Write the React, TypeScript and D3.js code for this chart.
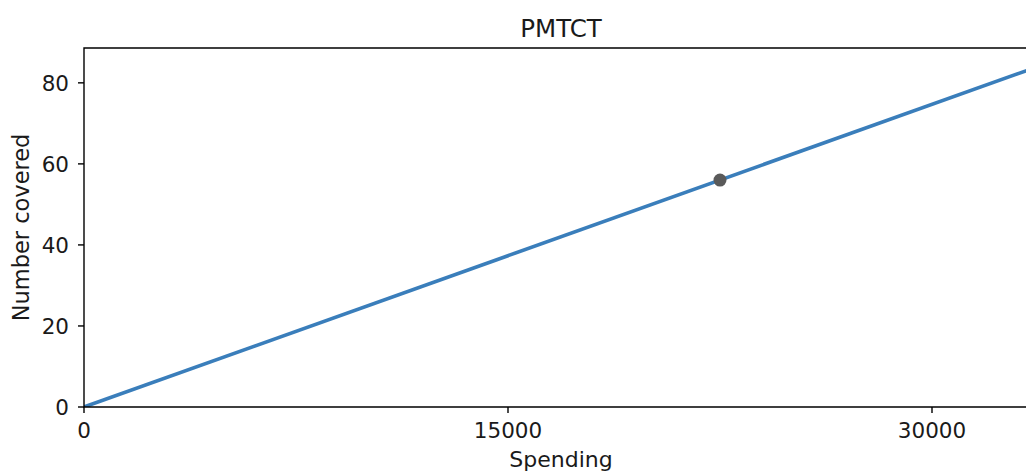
import React from "react";
import * as d3 from "d3";

const lineSpending = [0, 33900];
const lineCovered = [0, 84.4];
const pointSpending = [22500];
const pointCovered = [56];
const xTicks = [0, 15000, 30000];
const yTicks = [0, 20, 40, 60, 80];

export default function App() {
  const W = 1026, H = 474;
  const left = 84, top = 48, bottom = 407;
  const x = d3.scaleLinear().domain([0, 15000]).range([left, left + 424]);
  const xMax = 35600;
  const right = x(xMax);
  const y = d3.scaleLinear().domain([0, 88.6]).range([bottom, top]);
  const lineData = lineSpending.map((s, i) => [s, lineCovered[i]] as [number, number]);
  const line = d3.line<[number, number]>().x(d => x(d[0])).y(d => y(d[1]));
  const font = "DejaVu Sans, sans-serif";
  return (
    <svg width={W} height={H} style={{ position: "absolute", left: 0, top: 0, display: "block" }} fontFamily={font}>
      <rect x={0} y={0} width={W} height={H} fill="#fff" />
      <defs>
        <clipPath id="plot"><rect x={left} y={top} width={right - left} height={bottom - top} /></clipPath>
      </defs>
      <path d={line(lineData) || ""} fill="none" stroke="#3a7ebb" strokeWidth={3.6} clipPath="url(#plot)" />
      {pointSpending.map((s, i) => (
        <circle key={i} cx={x(s)} cy={y(pointCovered[i])} r={6.5} fill="#5a5a5a" />
      ))}
      <path d={`M${left},${bottom}V${top}H${right}V${bottom}Z`} fill="none" stroke="#000" strokeWidth={1.4} />
      {yTicks.map(t => (
        <g key={t}>
          <line x1={left - 6} x2={left} y1={y(t)} y2={y(t)} stroke="#000" strokeWidth={1.4} />
          <text x={left - 15} y={y(t)} dy="0.36em" textAnchor="end" fontSize={21.5} fill="#1a1a1a">{t}</text>
        </g>
      ))}
      {xTicks.map(t => (
        <g key={t}>
          <line x1={x(t)} x2={x(t)} y1={bottom} y2={bottom + 6} stroke="#000" strokeWidth={1.4} />
          <text x={x(t)} y={438} textAnchor="middle" fontSize={21.5} fill="#1a1a1a">{t}</text>
        </g>
      ))}
      <text x={561} y={467} textAnchor="middle" fontSize={22} fill="#1a1a1a">Spending</text>
      <text transform={`translate(29,${(top + bottom) / 2}) rotate(-90)`} textAnchor="middle" fontSize={22.5} fill="#1a1a1a">Number covered</text>
      <text x={561} y={37} textAnchor="middle" fontSize={24.5} fill="#1a1a1a">PMTCT</text>
    </svg>
  );
}
